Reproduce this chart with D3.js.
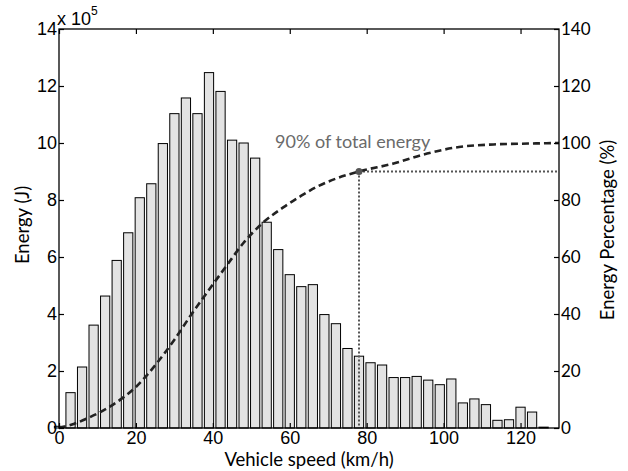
<!DOCTYPE html>
<html>
<head>
<meta charset="utf-8">
<script src="https://cdn.jsdelivr.net/npm/d3@7"></script>
<style>
  body { margin: 0; background: #fff; }
  svg { display: block; }
  .tl { font-family: "Liberation Sans", Arial, sans-serif; font-size: 18px; fill: #000; }
  .cal { font-family: Lato, "Open Sans", sans-serif; fill: #000; }
</style>
</head>
<body>
<svg id="chart" width="628" height="471"></svg>
<script>
// speed bins (km/h) and energy per bin (x 10^5 J)
var speeds = [0, 3, 6, 9, 12, 15, 18, 21, 24, 27, 30, 33, 36, 39, 42, 45, 48, 51, 54, 57,
              60, 63, 66, 69, 72, 75, 78, 81, 84, 87, 90, 93, 96, 99, 102, 105, 108, 111,
              114, 117, 120, 123, 126];
var energy = [0.06, 1.24, 2.14, 3.61, 4.63, 5.88, 6.85, 8.08, 8.57, 9.98, 11.03, 11.58, 11.03,
              12.47, 11.81, 10.1, 10.0, 9.47, 7.22, 6.26, 5.38, 4.96, 5.03, 3.98, 3.66, 2.79,
              2.52, 2.29, 2.21, 1.77, 1.77, 1.81, 1.68, 1.52, 1.72, 0.88, 1.02, 0.82, 0.27,
              0.29, 0.73, 0.56, 0.03];

// cumulative energy percentage curve
var cumSpeed = [0, 4, 7.7, 12, 16.3, 20, 25, 30, 34.5, 39, 43.6, 48, 53, 58.4, 63, 67, 72, 78,
                87, 95.7, 104, 113, 122, 130];
var cumPct   = [0, 1.5, 3.6, 6.5, 10.3, 14.4, 22, 31, 40, 48.5, 57, 65, 72, 77.5, 81.5, 84.6,
                87.5, 90, 92.8, 96.3, 98.6, 99.5, 99.8, 100];

var mark90 = [78, 90];
var xTicks = [0, 20, 40, 60, 80, 100, 120];
var yTicks = [0, 2, 4, 6, 8, 10, 12, 14];
var y2Ticks = [0, 20, 40, 60, 80, 100, 120, 140];

var svg = d3.select('#chart');
var pLeft = 59, pRight = 559, pTop = 29, pBottom = 428;

var x = d3.scaleLinear().domain([0, 130]).range([pLeft, pRight]);
var y = d3.scaleLinear().domain([0, 14]).range([pBottom, pTop]);
var y2 = d3.scaleLinear().domain([0, 140]).range([pBottom, pTop]);

// bars
svg.append('g').selectAll('rect')
  .data(speeds)
  .enter().append('rect')
  .attr('x', function(d) { return x(d - 1.2); })
  .attr('width', function(d) { return x(2.4) - x(0); })
  .attr('y', function(d, i) { return y(energy[i]); })
  .attr('height', function(d, i) { return y(0) - y(energy[i]); })
  .attr('fill', '#e3e3e3')
  .attr('stroke', '#000')
  .attr('stroke-width', 1);

// dotted guide lines to 90%
svg.append('line')
  .attr('x1', x(mark90[0])).attr('x2', x(mark90[0]))
  .attr('y1', y2(mark90[1])).attr('y2', y2(0))
  .attr('stroke', '#555').attr('stroke-width', 2).attr('stroke-dasharray', '2,2');
svg.append('line')
  .attr('x1', x(mark90[0])).attr('x2', x(130))
  .attr('y1', y2(mark90[1])).attr('y2', y2(mark90[1]))
  .attr('stroke', '#555').attr('stroke-width', 2).attr('stroke-dasharray', '2,2');

// cumulative curve
var line = d3.line()
  .x(function(d, i) { return x(cumSpeed[i]); })
  .y(function(d) { return y2(d); })
  .curve(d3.curveMonotoneX);
svg.append('path')
  .attr('d', line(cumPct))
  .attr('fill', 'none')
  .attr('stroke', '#222')
  .attr('stroke-width', 2.6)
  .attr('stroke-dasharray', '7,4');

svg.append('circle')
  .attr('cx', x(mark90[0])).attr('cy', y2(mark90[1]))
  .attr('r', 3.5).attr('fill', '#555');

svg.append('text')
  .attr('class', 'cal')
  .attr('x', 275).attr('y', 148)
  .attr('font-size', 18)
  .style('fill', '#6a6a6a')
  .text('90% of total energy');

// frame
svg.append('rect')
  .attr('x', pLeft).attr('y', pTop)
  .attr('width', pRight - pLeft).attr('height', pBottom - pTop)
  .attr('fill', 'none').attr('stroke', '#000').attr('stroke-width', 1.3);

// axes (inward ticks, MATLAB style)
var gx = svg.append('g').attr('transform', 'translate(0,' + pBottom + ')')
  .call(d3.axisBottom(x).tickValues(xTicks).tickSize(-5).tickPadding(3).tickFormat(d3.format('d')));
var gxTop = svg.append('g').attr('transform', 'translate(0,' + pTop + ')')
  .call(d3.axisTop(x).tickValues(xTicks).tickSize(-5).tickFormat(''));
var gy = svg.append('g').attr('transform', 'translate(' + pLeft + ',0)')
  .call(d3.axisLeft(y).tickValues(yTicks).tickSize(-5).tickPadding(2).tickFormat(d3.format('d')));
var gy2 = svg.append('g').attr('transform', 'translate(' + pRight + ',0)')
  .call(d3.axisRight(y2).tickValues(y2Ticks).tickSize(-5).tickPadding(2).tickFormat(d3.format('d')));

[gx, gxTop, gy, gy2].forEach(function(g) {
  g.select('.domain').remove();
  g.selectAll('.tick line').attr('stroke', '#000').attr('stroke-width', 1.2);
});
gx.selectAll('text').attr('class', 'tl').attr('dy', '0.71em');
gy.selectAll('text').attr('class', 'tl');
gy2.selectAll('text').attr('class', 'cal').attr('font-size', 17);

// exponent label
var ex = svg.append('text').attr('class', 'tl').attr('x', 57).attr('y', 25).attr('font-size', 17);
ex.append('tspan').text('x 10');
ex.append('tspan').attr('dy', -10).attr('font-size', 12).text('5');

// axis titles
svg.append('text').attr('class', 'cal')
  .attr('transform', 'translate(29,225) rotate(-90)')
  .attr('text-anchor', 'middle').attr('font-size', 18.5)
  .text('Energy (J)');
svg.append('text').attr('class', 'cal')
  .attr('x', (pLeft + pRight) / 2).attr('y', 466)
  .attr('text-anchor', 'middle').attr('font-size', 18.5)
  .text('Vehicle speed (km/h)');
svg.append('text').attr('class', 'cal')
  .attr('transform', 'translate(614,230) rotate(-90)')
  .attr('text-anchor', 'middle').attr('font-size', 18.5)
  .text('Energy Percentage (%)');
</script>
</body>
</html>
